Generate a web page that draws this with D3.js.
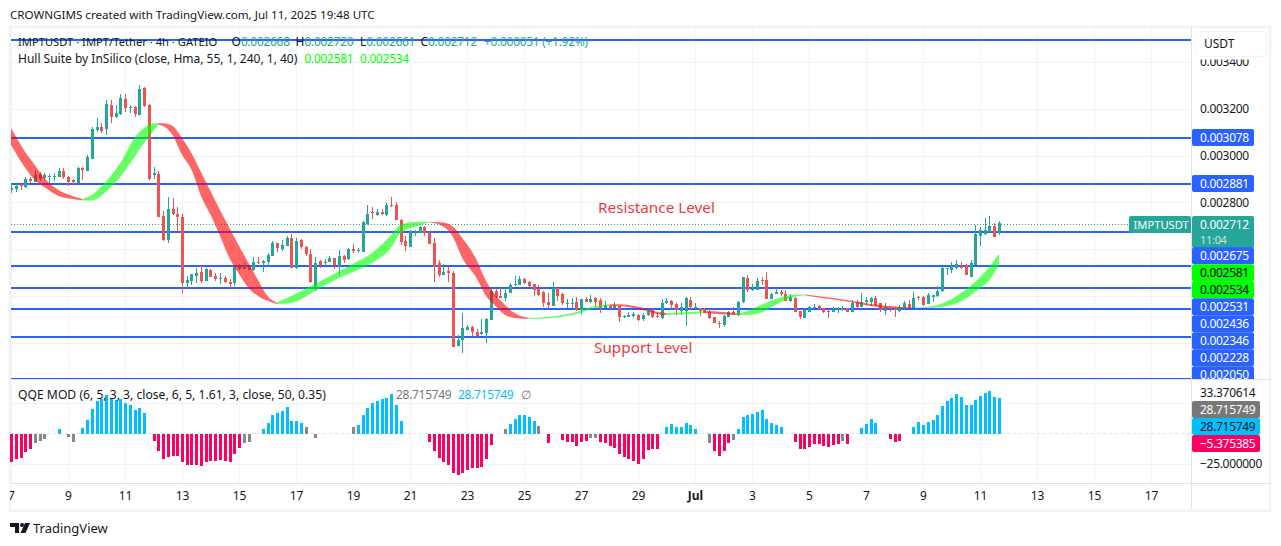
<!DOCTYPE html>
<html>
<head>
<meta charset="utf-8">
<title>IMPTUSDT 4h</title>
<script src="https://cdn.jsdelivr.net/npm/d3@7/dist/d3.min.js"></script>
<style>
  html, body { margin: 0; padding: 0; background: #fff; }
  svg { display: block; font-family: "Noto Sans", sans-serif; }
  .num { letter-spacing: -0.3px; }
</style>
</head>
<body>
<div id="chart"></div>
<script>
// Prices are held in millionths of USDT; one row per 4h bar: open, high, low, close.
const ohlc = [
[2855,2877,2840,2862],[2857,2883,2845,2870],[2879,2883,2853,2870],[2866,2909,2862,2900],[2900,2909,2883,2892],
[2889,2939,2887,2917],[2922,2930,2892,2900],[2904,2926,2896,2917],[2909,2922,2883,2913],[2909,2926,2892,2913],
[2909,2947,2909,2936],[2934,2947,2900,2909],[2910,2913,2870,2889],[2896,2900,2875,2889],[2883,2951,2883,2947],
[2945,2951,2896,2939],[2936,3003,2934,2995],[2986,3122,2986,3114],[3109,3160,3101,3121],[3122,3139,3096,3106],
[3112,3237,3088,3220],[3216,3237,3139,3163],[3166,3216,3160,3180],[3178,3263,3173,3247],[3242,3263,3186,3204],
[3204,3216,3182,3209],[3209,3212,3165,3178],[3173,3301,3173,3284],[3288,3293,3207,3212],[3216,3220,2896,2899],
[2917,2951,2900,2927],[2922,2934,2739,2739],[2742,2764,2636,2640],[2640,2823,2629,2772],[2772,2819,2747,2751],
[2751,2781,2678,2738],[2738,2751,2414,2458],[2458,2486,2431,2469],[2466,2495,2448,2495],[2486,2520,2456,2498],
[2503,2529,2456,2466],[2466,2520,2465,2516],[2512,2516,2482,2483],[2486,2499,2465,2473],[2476,2499,2452,2479],
[2479,2486,2456,2462],[2461,2473,2435,2452],[2455,2529,2444,2526],[2526,2537,2512,2516],[2516,2546,2516,2530],
[2525,2529,2512,2512],[2512,2567,2508,2546],[2546,2567,2537,2542],[2543,2555,2503,2552],[2546,2584,2525,2577],
[2573,2636,2572,2628],[2626,2627,2589,2606],[2602,2640,2593,2619],[2616,2657,2614,2648],[2648,2665,2520,2522],
[2522,2648,2516,2636],[2640,2642,2602,2610],[2611,2612,2571,2580],[2580,2601,2456,2461],[2438,2567,2422,2542],
[2552,2555,2520,2533],[2540,2559,2529,2547],[2547,2572,2546,2564],[2562,2563,2516,2533],[2529,2597,2491,2572],
[2572,2576,2542,2555],[2557,2606,2555,2600],[2600,2622,2584,2594],[2594,2606,2584,2597],[2590,2721,2589,2718],
[2708,2789,2704,2751],[2758,2781,2729,2754],[2747,2772,2742,2761],[2761,2773,2747,2751],[2747,2798,2744,2791],
[2789,2823,2781,2785],[2789,2802,2725,2725],[2725,2729,2619,2633],[2636,2657,2593,2614],[2611,2683,2610,2674],
[2674,2683,2658,2678],[2671,2700,2670,2694],[2694,2700,2658,2669],[2671,2680,2623,2623],[2628,2648,2462,2526],
[2540,2555,2483,2489],[2491,2537,2491,2503],[2508,2526,2462,2498],[2499,2508,2185,2185],[2188,2235,2188,2213],
[2213,2327,2159,2264],[2256,2277,2256,2267],[2270,2273,2232,2249],[2249,2260,2226,2232],[2239,2303,2235,2246],
[2244,2307,2200,2303],[2300,2435,2300,2422],[2422,2430,2392,2395],[2401,2435,2394,2394],[2391,2435,2381,2414],
[2414,2456,2412,2448],[2449,2488,2445,2453],[2448,2486,2448,2473],[2473,2479,2451,2455],[2462,2465,2441,2445],
[2451,2452,2402,2427],[2430,2448,2402,2405],[2419,2424,2355,2372],[2377,2412,2351,2361],[2358,2459,2358,2436],
[2436,2437,2381,2401],[2408,2412,2363,2372],[2368,2387,2351,2372],[2370,2392,2351,2372],[2375,2395,2338,2341],
[2341,2389,2324,2387],[2388,2395,2375,2377],[2377,2404,2370,2387],[2394,2398,2355,2375],[2384,2394,2330,2348],
[2351,2381,2348,2363],[2358,2360,2345,2350],[2350,2374,2345,2357],[2358,2359,2290,2313],[2316,2320,2308,2317],
[2313,2331,2311,2320],[2317,2331,2311,2324],[2320,2324,2296,2299],[2301,2327,2296,2320],[2320,2345,2317,2338],
[2341,2345,2306,2310],[2317,2327,2306,2313],[2306,2388,2302,2370],[2370,2391,2367,2380],[2380,2384,2345,2363],
[2367,2370,2320,2341],[2338,2370,2320,2353],[2338,2395,2274,2392],[2384,2395,2341,2353],[2353,2370,2345,2355],
[2348,2351,2317,2338],[2345,2351,2327,2330],[2334,2344,2302,2306],[2310,2313,2284,2287],[2287,2296,2266,2283],
[2277,2320,2267,2317],[2313,2338,2313,2334],[2331,2353,2320,2323],[2320,2380,2317,2377],[2377,2483,2370,2481],
[2476,2489,2419,2427],[2427,2452,2424,2430],[2427,2476,2427,2465],[2469,2481,2447,2465],[2469,2503,2388,2388],
[2388,2412,2388,2410],[2411,2434,2410,2417],[2417,2427,2402,2408],[2408,2427,2381,2381],[2381,2409,2377,2398],
[2394,2398,2334,2334],[2337,2338,2303,2310],[2308,2348,2308,2341],[2334,2358,2334,2353],[2353,2365,2344,2355],
[2358,2363,2341,2344],[2348,2351,2330,2334],[2338,2341,2308,2334],[2334,2353,2334,2344],[2341,2355,2330,2344],
[2341,2358,2338,2348],[2348,2351,2334,2334],[2334,2384,2334,2372],[2377,2384,2345,2355],[2355,2412,2353,2374],
[2374,2398,2363,2384],[2377,2395,2358,2392],[2394,2401,2358,2363],[2370,2372,2334,2341],[2338,2370,2320,2353],
[2351,2355,2334,2344],[2350,2355,2310,2342],[2337,2363,2334,2353],[2344,2380,2341,2372],[2365,2384,2348,2351],
[2348,2417,2348,2391],[2397,2402,2384,2392],[2397,2401,2358,2363],[2367,2412,2367,2405],[2398,2406,2377,2405],
[2401,2444,2398,2422],[2422,2530,2417,2520],[2516,2522,2491,2519],[2512,2545,2500,2530],[2519,2555,2515,2536],
[2530,2545,2516,2519],[2533,2536,2491,2491],[2483,2555,2483,2540],[2533,2704,2533,2665],[2658,2694,2616,2683],
[2665,2732,2661,2683],[2675,2742,2675,2700],[2700,2714,2654,2654],[2668,2720,2661,2712]
];

// Hull Suite ribbon: bar index, upper and lower edge.
const hullBars = [0,3,5,7,10,13,15,17,20,23,26,28,30,31,32,34,36,38,40,42,44,46,48,50,52,54,56,59,64,69,72,76,80,82,85,88,91,93,95,98,100,102,104,106,109,114,119,123,126,129,133,137,138,143,146,150,153,155,158,161,164,167,171,176,181,185,190,194,197,200,203,206,208];
const hullUpper = [3118,3015,2960,2904,2853,2828,2815,2832,2889,2968,3075,3118,3138,3138,3138,3126,3075,3011,2930,2849,2768,2691,2614,2542,2469,2401,2373,2401,2452,2505,2538,2584,2661,2704,2717,2718,2714,2697,2648,2555,2465,2405,2363,2328,2307,2313,2333,2358,2366,2365,2351,2330,2328,2333,2337,2333,2326,2337,2363,2388,2405,2407,2398,2384,2367,2358,2351,2358,2377,2414,2462,2526,2581];
const hullLower = [3045,2947,2896,2866,2828,2815,2808,2808,2846,2909,2994,3054,3106,3131,3126,3088,3003,2939,2828,2747,2657,2563,2495,2435,2401,2380,2367,2371,2422,2478,2503,2542,2606,2670,2695,2715,2697,2654,2563,2478,2401,2358,2320,2307,2303,2307,2324,2349,2358,2356,2341,2321,2320,2324,2328,2322,2320,2320,2330,2363,2392,2404,2391,2377,2358,2349,2349,2351,2358,2377,2419,2469,2534];
// Bars where the ribbon changes colour; it opens falling.
const hullFlips = [15,31,56,88,109,126,138,146,153,167,190];

const qqeValues = [
-23,-20.3,-19.8,-14.9,-12.7,-8.1,-6.2,-4.6,null,null,3.5,null,-3.2,-7,null,4.3,10.8,19.5,26.2,27.6,
31.1,29.2,27,28.4,24.9,23,18.9,20.3,16.8,null,-6.2,-14.3,-20.8,-18.9,-18.4,-18.4,-23.3,-25.7,-25.7,-25.7,
-26.5,-23.3,-22.5,-22.5,-21.6,-22.5,-23.3,-16.5,-11.9,-7.6,-6.8,null,null,3.5,8.7,14.9,16.8,18.4,21.6,10.3,
10.3,8.7,5.4,null,-3.5,null,null,null,null,null,null,null,5.4,6.8,14.9,20.3,24.4,26.5,28.4,29,
31.9,23,10,null,null,null,null,null,-7,-14,-19.8,-23,-25.7,-31.7,-33.8,-31.7,-29.8,-28.4,-28.1,-27.3,
-20.8,-9.5,null,null,4,8.1,11.4,14.9,14.9,13,10,6,null,-7.6,null,null,-5.4,-6.8,-7,-10,
-7,-6.2,-3.8,-3.8,-7,-7.6,-10,-11.4,-16.8,-18.9,-20.8,-22.5,-24.9,-20.8,-13.5,-12.7,-12.7,null,4.9,8.1,
4.9,4.9,8.9,6.8,4,null,null,-8.1,-14.3,-18.4,-14.3,-7.6,-5.4,3.5,13.5,14.9,15.7,17.3,18.9,11.6,
8.7,6.8,5.4,null,null,-7,-12.7,-12.7,-11,-8.7,-8.7,-10.3,-11,-9.5,-8.7,-6.2,-8.7,null,null,4.3,
7.6,11.6,8.4,null,null,-4.6,-7,-6.2,null,null,5.1,9.2,6.8,9.2,10.8,14.9,22.2,26.2,28.7,31.9,
29.5,23,23,27,30.3,32.7,34.4,29.5,28.7157
];
const qqeGreyBars = [5,6,7,12,13,49,50,62,64,72,104,111,122,123,147,152,175];

const levelPrices = [3494,3078,2881,2675,2531,2436,2346,2228,2050];
const priceTicks = [3400,3200,3000,2800,2600,2400,2200];
const priceLabelTicks = [3400,3200,3000,2800];
const qqeTicks = [25,-25];
const dayTicks = [7,9,11,13,15,17,19,21,23,25,27,29,31,33,35,37,39,41,43,45,47];
const lastClose = 2712;
const hullNow = [2581,2534];
const qqeNow = {top:33.370614, line:28.715749, hist:28.715749, low:-5.375385, floor:-25};

const colors = {
  up:"#26a69a", down:"#ef5350", level:"#2962ff", ink:"#131722", grid:"#f2f3f5", rule:"#e0e3eb",
  hullDown:"#ff0000", hullUp:"#00ff00", pink:"#ff0061", sky:"#00bfff", grey:"#888888", greyTag:"#787878", note:"#f23645"
};

const W = 1281, H = 546;
const svg = d3.select("#chart").append("svg").attr("width", W).attr("height", H);

const startDay = Date.UTC(2025, 5, 7);
const barTime = i => new Date(startDay + i * 4 * 3600e3);
const x = d3.scaleUtc().domain([new Date(startDay), new Date(Date.UTC(2025, 6, 17))]).range([11, 1151]);
const y = d3.scaleLinear().domain([2050, 3200]).range([378.2, 108.7]);
const yq = d3.scaleLinear().domain([-25, 25]).range([464.3, 402.7]);
const px = i => Math.round(x(barTime(i)));
const micro = d => (d / 1e6).toFixed(6);

// Outer frame and the pane dividers.
svg.append("rect").attr("x",10).attr("y",27).attr("width",1260).attr("height",484)
  .attr("fill","#fff").attr("stroke",colors.grid).attr("stroke-width",2.5);

const clip = svg.append("defs");
clip.append("clipPath").attr("id","plot").append("rect").attr("x",11).attr("y",28).attr("width",1181).attr("height",352);
clip.append("clipPath").attr("id","tagClip").append("rect").attr("x",1192).attr("y",28).attr("width",78).attr("height",351);
clip.append("clipPath").attr("id","timeClip").append("rect").attr("x",10).attr("y",484).attr("width",1182).attr("height",26);

// Grid.
const dayDate = d => new Date(startDay + (d - 7) * 864e5);
const grid = svg.append("g").attr("shape-rendering","crispEdges").attr("stroke",colors.grid);
grid.selectAll(".v").data(dayTicks).join("line").attr("class","v")
  .attr("x1",d=>Math.round(x(dayDate(d)))+.5).attr("x2",d=>Math.round(x(dayDate(d)))+.5).attr("y1",28).attr("y2",483);
grid.selectAll(".h").data(priceTicks).join("line").attr("class","h")
  .attr("x1",11).attr("x2",1192).attr("y1",d=>Math.round(y(d))+.5).attr("y2",d=>Math.round(y(d))+.5);
grid.selectAll(".q").data(qqeTicks).join("line").attr("class","q")
  .attr("x1",11).attr("x2",1192).attr("y1",d=>Math.round(yq(d))+.5).attr("y2",d=>Math.round(yq(d))+.5);

const plot = svg.append("g").attr("clip-path","url(#plot)");

// Horizontal support and resistance levels.
plot.selectAll(".level").data(levelPrices).join("line").attr("class","level")
  .attr("x1",11).attr("x2",1192).attr("y1",d=>Math.ceil(y(d))).attr("y2",d=>Math.ceil(y(d)))
  .attr("stroke",colors.level).attr("stroke-width",2).attr("shape-rendering","crispEdges");

// Last price marker.
plot.append("line").attr("x1",11).attr("x2",1130).attr("y1",224.5).attr("y2",224.5)
  .attr("stroke",colors.up).attr("stroke-width",1).attr("stroke-dasharray","1 2");

// Candles.
const candles = plot.append("g").attr("shape-rendering","crispEdges");
const rows = ohlc.map((r,i)=>({i,o:r[0],h:r[1],l:r[2],c:r[3]}));
candles.selectAll(".wick").data(rows).join("rect").attr("class","wick")
  .attr("x",d=>px(d.i)).attr("width",1)
  .attr("y",d=>y(d.h)).attr("height",d=>Math.max(1,y(d.l)-y(d.h)))
  .attr("fill",d=>d.c>=d.o?colors.up:colors.down);
candles.selectAll(".body").data(rows).join("rect").attr("class","body")
  .attr("x",d=>px(d.i)-1).attr("width",3)
  .attr("y",d=>y(Math.max(d.o,d.c))).attr("height",d=>Math.max(1,Math.abs(y(d.o)-y(d.c))))
  .attr("fill",d=>d.c>=d.o?colors.up:colors.down);

// Hull ribbon, one area per colour run.
const hullRows = hullBars.map((b,k)=>({b,u:hullUpper[k],v:hullLower[k]}));
const ribbon = d3.area().x(d=>x(barTime(d.b))).y0(d=>y(d.v)).y1(d=>y(d.u)).curve(d3.curveMonotoneX);
const edges = [0,...hullFlips,208];
d3.pairs(edges).forEach(([a,b],k)=>{
  plot.append("path").datum(hullRows.filter(d=>d.b>=a&&d.b<=b))
    .attr("d",ribbon).attr("fill",k%2?colors.hullUp:colors.hullDown).attr("fill-opacity",.6);
});

// Annotations.
plot.append("text").attr("x",598).attr("y",213).attr("fill",colors.note).attr("font-size",15.3).text("Resistance Level");
plot.append("text").attr("x",594).attr("y",353).attr("fill",colors.note).attr("font-size",15.3).text("Support Level");

// QQE histogram.
svg.append("line").attr("x1",11).attr("x2",1192).attr("y1",yq(0)).attr("y2",yq(0))
  .attr("stroke",colors.rule).attr("stroke-dasharray","3 3");
const qRows = qqeValues.map((v,i)=>({i,v})).filter(d=>d.v!==null);
svg.append("g").attr("shape-rendering","crispEdges").selectAll("rect").data(qRows).join("rect")
  .attr("x",d=>px(d.i)-1).attr("width",3)
  .attr("y",d=>Math.min(yq(d.v),yq(0))).attr("height",d=>Math.abs(yq(d.v)-yq(0)))
  .attr("fill",d=>qqeGreyBars.includes(d.i)?colors.grey:d.v>0?colors.sky:colors.pink);

// Pane rules.
const rules = svg.append("g").attr("stroke",colors.rule).attr("shape-rendering","crispEdges");
rules.append("line").attr("x1",11).attr("x2",1270).attr("y1",379.5).attr("y2",379.5);
rules.append("line").attr("x1",11).attr("x2",1270).attr("y1",483.5).attr("y2",483.5);
rules.append("line").attr("x1",1191.5).attr("x2",1191.5).attr("y1",28).attr("y2",510);

// Price axis.
const pAxis = svg.append("g").attr("transform","translate(1192,0)")
  .call(d3.axisRight(y).tickValues(priceLabelTicks).tickFormat(micro).tickSize(0).tickPadding(8));
pAxis.select(".domain").remove();
pAxis.selectAll("text").attr("class","num").attr("font-size",12).attr("font-family","Noto Sans").attr("fill",colors.ink);

// Currency button and its backing sit over the top tick.
svg.append("rect").attr("x",1192).attr("y",29).attr("width",77).attr("height",30.5).attr("fill","#fff");
svg.append("rect").attr("x",1195.5).attr("y",31.5).attr("width",71).attr("height",25).attr("rx",4)
  .attr("fill","#fff").attr("stroke",colors.grid);
svg.append("text").attr("x",1204).attr("y",48).attr("font-size",12).attr("fill",colors.ink).text("USDT");

// Price tags.
const tag = (yc, label, fill, ink, w=62, h=17) => {
  const g = svg.append("g").attr("clip-path","url(#tagClip)");
  g.append("rect").attr("x",1192).attr("y",yc-h/2).attr("width",w).attr("height",h).attr("rx",2).attr("fill",fill);
  g.append("text").attr("class","num").attr("x",1200).attr("y",yc+4.2).attr("font-size",12).attr("fill",ink).text(label);
};
[3078,2881].forEach(p=>tag(Math.round(y(p))+.5,micro(p),colors.level,"#fff"));

// Last price tag with the bar countdown.
svg.append("rect").attr("x",1192).attr("y",216).attr("width",62).attr("height",32).attr("rx",2).attr("fill",colors.up);
svg.append("text").attr("class","num").attr("x",1200).attr("y",228.5).attr("font-size",12).attr("fill","#fff").text(micro(lastClose));
svg.append("text").attr("class","num").attr("x",1200).attr("y",244).attr("font-size",11).attr("fill","#fff").attr("fill-opacity",.75).text("11:04");
svg.append("rect").attr("x",1129).attr("y",216).attr("width",62).attr("height",17).attr("rx",2).attr("fill",colors.up);
svg.append("text").attr("x",1133.5).attr("y",228.5).attr("font-size",11.2).attr("fill","#fff").text("IMPTUSDT");

// The remaining tags stack downward from the first one.
const stack = [
  [2675,colors.level,"#fff"],[hullNow[0],"#00ff00","#000"],[hullNow[1],"#00ff00","#000"],
  [2531,colors.level,"#fff"],[2436,colors.level,"#fff"],[2346,colors.level,"#fff"],[2228,colors.level,"#fff"],[2050,colors.level,"#fff"]
];
stack.forEach(([p,fill,ink],k)=>tag(255.7+k*17,micro(p),fill,ink));

// QQE axis.
const qLabels = svg.append("g").attr("font-size",12).attr("class","num");
qLabels.append("text").attr("x",1200).attr("y",397).attr("fill",colors.ink).text(qqeNow.top.toFixed(6));
qLabels.append("text").attr("x",1200).attr("y",467.5).attr("fill",colors.ink).text("\u2212"+Math.abs(qqeNow.floor).toFixed(6));
const qTag = (yc,label,fill,ink) => {
  svg.append("rect").attr("x",1192).attr("y",yc-8.5).attr("width",68).attr("height",17).attr("rx",2).attr("fill",fill);
  svg.append("text").attr("class","num").attr("x",1200).attr("y",yc+4.2).attr("font-size",12).attr("fill",ink).text(label);
};
qTag(409.5,qqeNow.line.toFixed(6),colors.greyTag,"#fff");
qTag(426.5,qqeNow.hist.toFixed(6),colors.sky,colors.ink);
qTag(443.5,"\u2212"+Math.abs(qqeNow.low).toFixed(6),colors.pink,"#fff");

// Time axis.
const tAxis = svg.append("g").attr("clip-path","url(#timeClip)").append("g").attr("transform","translate(0,484)")
  .call(d3.axisBottom(x).tickValues(dayTicks.map(dayDate)).tickSize(0).tickPadding(7)
    .tickFormat(d=>d.getUTCMonth()===6&&d.getUTCDate()===1?"Jul":d.getUTCDate()));
tAxis.select(".domain").remove();
tAxis.selectAll("text").attr("font-size",12).attr("font-family","Noto Sans").attr("fill",colors.ink)
  .attr("font-weight",d=>d.getUTCMonth()===6&&d.getUTCDate()===1?"bold":null);

// Title and pane legends.
svg.append("text").attr("x",10).attr("y",19).attr("font-size",11.6).attr("fill",colors.ink)
  .text("CROWNGIMS created with TradingView.com, Jul 11, 2025 19:48 UTC");

const legend = svg.append("g").attr("font-size",12);
legend.append("text").attr("x",18).attr("y",45.5).attr("fill",colors.ink).attr("font-size",11.2).text("IMPTUSDT \u00b7 IMPT/Tether \u00b7 4h \u00b7 GATEIO");
[["O","0.002668",231.5],["H","0.002720",295.5],["L","0.002661",360],["C","0.002712",420.5]].forEach(([k,v,xp])=>{
  const t = legend.append("text").attr("x",xp).attr("y",45.5).attr("fill",colors.ink).text(k);
  t.append("tspan").attr("class","num").attr("fill",colors.up).text(v);
});
legend.append("text").attr("class","num").attr("x",484).attr("y",45.5).attr("fill",colors.up).text("+0.000051 (+1.92%)");
legend.append("text").attr("x",18).attr("y",63).attr("fill",colors.ink).text("Hull Suite by InSilico (close, Hma, 55, 1, 240, 1, 40)");
legend.append("text").attr("class","num").attr("x",304.5).attr("y",63).attr("fill","#00ff00").text(micro(hullNow[0]));
legend.append("text").attr("class","num").attr("x",360).attr("y",63).attr("fill","#00ff00").text(micro(hullNow[1]));
legend.append("text").attr("x",18).attr("y",399).attr("fill",colors.ink).attr("font-size",12.15).text("QQE MOD (6, 5, 3, 3, close, 6, 5, 1.61, 3, close, 50, 0.35)");
legend.append("text").attr("class","num").attr("x",396).attr("y",399).attr("fill",colors.greyTag).text(qqeNow.line.toFixed(6));
legend.append("text").attr("class","num").attr("x",458).attr("y",399).attr("fill",colors.sky).text(qqeNow.hist.toFixed(6));
legend.append("text").attr("x",521).attr("y",399).attr("fill",colors.greyTag).text("\u2205");

// Wordmark.
const logo = svg.append("g").attr("transform","translate(10,523)").attr("fill","#131722");
logo.append("path").attr("d","M0 0H9V10H5V4H0Z");
logo.append("circle").attr("cx",12).attr("cy",2).attr("r",2);
logo.append("path").attr("d","M15 0H20L15.5 10H10.5Z");
svg.append("text").attr("x",33).attr("y",533).attr("font-size",13).attr("fill",colors.ink).text("TradingView");
</script>
</body>
</html>
